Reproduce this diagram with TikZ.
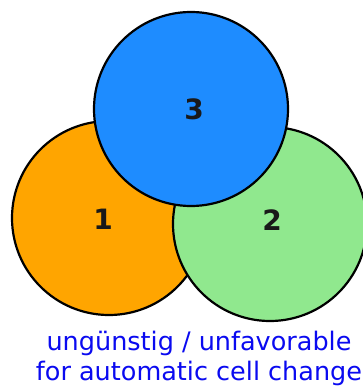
\documentclass[tikz,border=0pt]{standalone}
\usepackage{fontspec}
\setmainfont{DejaVu Sans}
\definecolor{cOrange}{HTML}{FFA500}
\definecolor{cGreen}{HTML}{90E88E}
\definecolor{cBlue}{HTML}{1E8CFF}
\definecolor{cText}{HTML}{0A0AF0}
\begin{document}
\begin{tikzpicture}[x=1pt,y=-1pt,
  cell/.style={circle,draw=black,line width=2.2pt,minimum size=194pt,inner sep=0pt},
  num/.style={font=\fontsize{28}{28}\selectfont\bfseries,text=black!90},
  note/.style={font=\fontsize{25.5}{30}\selectfont,text=cText,align=center}]
\useasboundingbox (0,0) rectangle (362,390);
\node[cell,fill=cOrange] (c1) at (109,218) {};
\node[cell,fill=cGreen] (c2) at (270,224) {};
\node[cell,fill=cBlue] (c3) at (191,109) {};
\node[num] (n1) at (103,219) {1};
\node[num] (n2) at (272,220) {2};
\node[num] (n3) at (194,109) {3};
\node[note] (t) at (199,358) {ungünstig / unfavorable\\for automatic cell change};
\end{tikzpicture}
\end{document}
